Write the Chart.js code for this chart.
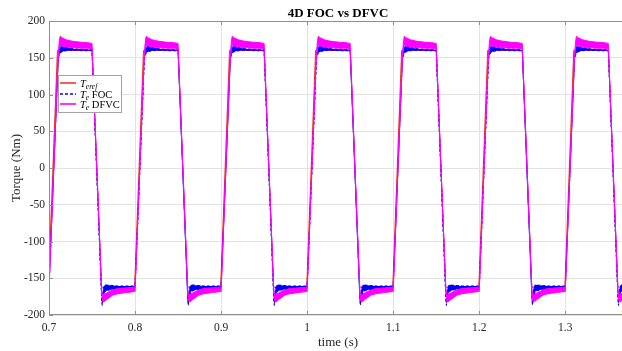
<!DOCTYPE html>
<html>
<head>
<meta charset="utf-8">
<script src="https://cdn.jsdelivr.net/npm/chart.js@4"></script>
<style>
  html, body { margin: 0; padding: 0; background: #fff; overflow: hidden; }
  #wrap { width: 632px; height: 351px; }
</style>
</head>
<body>
<div id="wrap"><canvas id="torqueChart" width="632" height="351"></canvas></div>
<script>
// ===== DATA =====
// start time of each 0.1 s period of the square torque command
const periodStarts = [0.7, 0.8, 0.9, 1.0, 1.1, 1.2, 1.3];

// reference torque, offsets inside one period (s) and values (Nm)
const refT = [-0.0008, 0.0098, 0.0500, 0.0610, 0.0995];
const refV = [-162, 160, 160, -162, -162];

// FOC torque: upper and lower edge of the ripple band
const focT  = [0.0, 0.0108, 0.0120, 0.0135, 0.016, 0.020, 0.025, 0.030, 0.040, 0.050, 0.0612, 0.0618, 0.0630, 0.065, 0.070, 0.080, 0.090, 0.0995];
const focHi = [-160, 150, 160, 166, 165, 164, 163, 162, 161.5, 161, -176, -184, -164, -159, -159.5, -160.5, -160.5, -160.5];
const focLo = [-163, 148, 154, 157, 158.5, 159.5, 160, 160, 159.5, 159.5, -178, -187, -176, -168, -166, -164, -163.5, -163];

// DFVC torque: upper and lower edge of the ripple band
const dfvcT  = [0.0, 0.0105, 0.0118, 0.0128, 0.0155, 0.020, 0.025, 0.030, 0.038, 0.045, 0.050, 0.0612, 0.0622, 0.064, 0.067, 0.074, 0.080, 0.090, 0.0995];
const dfvcHi = [-162, 152, 170, 179, 177, 174.5, 173, 172, 171, 170.5, 169.5, -166, -173, -172, -170, -166, -164, -163, -162];
const dfvcLo = [-168, 148, 162, 167, 166, 165, 164, 163.5, 163, 163, 162.5, -170, -181, -182, -179, -173, -171, -169.5, -168];

const xTicks = [0.7, 0.8, 0.9, 1.0, 1.1, 1.2, 1.3];
const yTicks = [-200, -150, -100, -50, 0, 50, 100, 150, 200];

// repeat a one-period trace over all periods
function trace(offsets, values) {
    const pts = [];
    periodStarts.forEach(p => offsets.forEach((o, i) => pts.push({ x: +(p + o).toFixed(4), y: values[i] })));
    return pts;
}

const SERIF = '"Liberation Serif", "DejaVu Serif", serif';
const AXIS = '#8f8f8f';

// frame, ticks, titles and legend drawn like the MATLAB figure
const decor = {
    id: 'decor',
    afterDraw(chart) {
        const c = chart.ctx, a = chart.chartArea;
        const xs = chart.scales.x, ys = chart.scales.y;
        c.save();
        c.strokeStyle = AXIS; c.lineWidth = 1;
        c.strokeRect(Math.round(a.left) + 0.5, Math.round(a.top) + 0.5, Math.round(a.right - a.left), Math.round(a.bottom - a.top) - 1);
        c.beginPath();
        xTicks.forEach(v => { const px = Math.round(xs.getPixelForValue(v)) + 0.5; c.moveTo(px, a.bottom); c.lineTo(px, a.bottom - 4); c.moveTo(px, a.top); c.lineTo(px, a.top + 4); });
        yTicks.forEach(v => { const py = Math.round(ys.getPixelForValue(v)) + 0.5; c.moveTo(a.left, py); c.lineTo(a.left + 4, py); });
        c.stroke();

        c.fillStyle = '#000';
        c.textAlign = 'center';
        c.font = 'bold 13px ' + SERIF;
        c.fillText('4D FOC vs DFVC', (a.left + a.right) / 2, 16.5);
        c.fillStyle = '#262626';
        c.font = '13px ' + SERIF;
        c.fillText('time (s)', (a.left + a.right) / 2, 346);
        c.save();
        c.translate(20, (a.top + a.bottom) / 2);
        c.rotate(-Math.PI / 2);
        c.fillText('Torque (Nm)', 0, 0);
        c.restore();

        // legend
        const bx = 58.5, by = 75.5, bw = 63, bh = 37;
        c.fillStyle = '#fff';
        c.fillRect(bx, by, bw, bh);
        c.strokeStyle = '#a3a3a3';
        c.strokeRect(bx, by, bw, bh);
        const rows = [
            { y: 83, color: '#ff3030', dash: [], sub: 'eref', rest: '' },
            { y: 94, color: '#0000ff', dash: [3, 2], sub: 'e', rest: ' FOC' },
            { y: 104, color: '#ff00ff', dash: [], sub: 'e', rest: ' DFVC' }
        ];
        rows.forEach(r => {
            c.strokeStyle = r.color; c.lineWidth = 1.6; c.setLineDash(r.dash);
            c.beginPath(); c.moveTo(60, r.y); c.lineTo(76, r.y); c.stroke();
            c.setLineDash([]);
            c.fillStyle = '#000';
            c.textAlign = 'left';
            let x = 80;
            c.font = 'italic 10.5px ' + SERIF;
            c.fillText('T', x, r.y + 3.5);
            x += c.measureText('T').width;
            c.font = 'italic 7.5px ' + SERIF;
            c.fillText(r.sub, x, r.y + 5.5);
            x += c.measureText(r.sub).width;
            c.font = '10.5px ' + SERIF;
            c.fillText(r.rest, x, r.y + 3.5);
        });
        c.restore();
    }
};

function lineSet(data, color, order, extra) {
    return Object.assign({ data: data, borderColor: color, backgroundColor: color, borderWidth: 1, pointRadius: 0, tension: 0, fill: false, order: order }, extra || {});
}

new Chart(document.getElementById('torqueChart'), {
    type: 'line',
    data: {
        datasets: [
            lineSet(trace(dfvcT, dfvcHi), '#ff00ff', 1, { fill: '+1' }),
            lineSet(trace(dfvcT, dfvcLo), '#ff00ff', 1),
            lineSet(trace(focT, focHi), '#0000ff', 2, { fill: '+1', borderDash: [3, 2] }),
            lineSet(trace(focT, focLo), '#0000ff', 2, { borderDash: [3, 2] }),
            lineSet(trace(refT, refV), '#ff2020', 3)
        ]
    },
    options: {
        responsive: false, animation: false,
        layout: { padding: { left: 0, right: 5, top: 21, bottom: 0 } },
        plugins: { legend: { display: false }, tooltip: { enabled: false }, title: { display: false } },
        scales: {
            x: {
                type: 'linear', min: 0.7, max: 1.3717,
                afterFit: s => { s.height = 36; },
                afterBuildTicks: s => { s.ticks = xTicks.map(v => ({ value: v })); },
                grid: { color: '#e2e2e2', drawTicks: false },
                border: { display: false },
                ticks: { padding: 6, color: '#262626', font: { family: SERIF, size: 11.5 }, maxRotation: 0, callback: v => String(+v.toFixed(2)) }
            },
            y: {
                min: -200, max: 200,
                afterFit: s => { s.width = 49; },
                afterBuildTicks: s => { s.ticks = yTicks.map(v => ({ value: v })); },
                grid: { color: '#e2e2e2', drawTicks: false },
                border: { display: false },
                ticks: { padding: 4, color: '#262626', font: { family: SERIF, size: 11.5 } }
            }
        }
    },
    plugins: [decor]
});
</script>
</body>
</html>
